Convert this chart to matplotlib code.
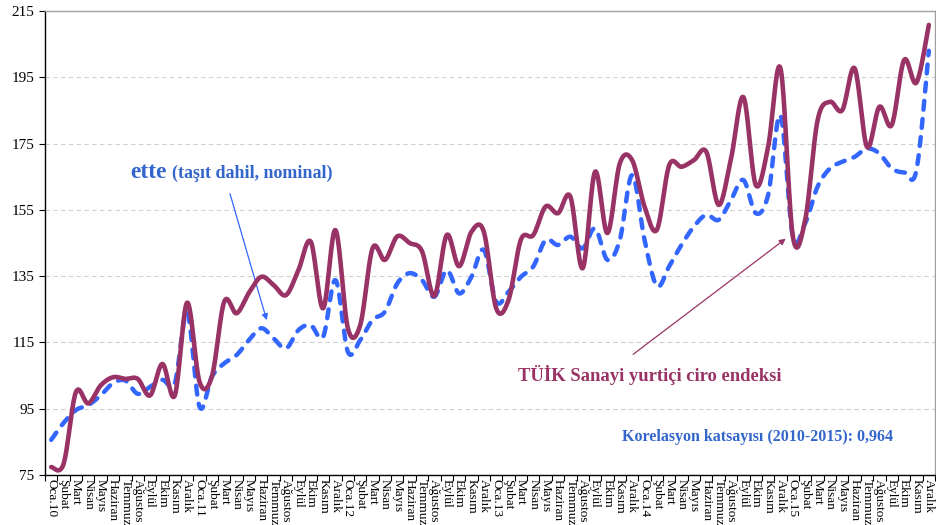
import numpy as np
import matplotlib
matplotlib.use('Agg')
import matplotlib.pyplot as plt

plt.rcParams['font.family'] = ['Liberation Serif', 'DejaVu Serif']

years = ['10', '11', '12', '13', '14', '15']
months = ['Oca', 'Şubat', 'Mart', 'Nisan', 'Mayıs', 'Haziran', 'Temmuz',
          'Ağustos', 'Eylül', 'Ekim', 'Kasım', 'Aralık']

# TÜİK Sanayi yurtiçi ciro endeksi
tuik = [77.4, 78.3, 100.0, 96.6, 102.0, 104.5, 104.0, 104.0, 99.0, 108.5, 99.0, 127.0,
        103.1, 104.7, 127.3, 123.8, 130.0, 134.8, 132.3, 129.3, 136.8, 145.4, 125.3, 148.9,
        119.3, 120.2, 143.4, 139.9, 147.0, 145.0, 142.5, 129.0, 147.4, 138.0, 148.4, 148.4,
        125.3, 127.8, 146.0, 147.4, 156.0, 154.0, 159.0, 137.4, 166.5, 148.0, 169.0, 170.0,
        156.0, 149.0, 168.5, 168.0, 170.0, 172.5, 156.5, 170.5, 189.0, 162.5, 174.0, 197.7,
        147.0, 152.0, 182.0, 187.6, 185.1, 197.7, 174.0, 186.1, 180.6, 200.2, 193.4, 210.8]

# ette (taşıt dahil, nominal)
ette = [85.6, 90.7, 94.6, 96.1, 99.0, 102.7, 103.5, 99.5, 101.6, 103.7, 102.7, 124.0,
        95.6, 104.7, 108.7, 111.2, 115.7, 119.3, 116.2, 113.2, 118.7, 120.2, 116.7, 133.8,
        112.2, 115.7, 121.8, 124.3, 132.8, 135.9, 133.8, 128.8, 136.8, 129.8, 134.8, 142.9,
        127.3, 130.3, 134.8, 137.9, 145.9, 144.4, 146.9, 143.4, 149.4, 139.9, 145.9, 165.5,
        146.0, 132.0, 138.0, 144.5, 150.0, 153.5, 152.0, 158.0, 164.0, 154.0, 159.5, 183.5,
        147.0, 151.0, 162.0, 167.5, 169.5, 171.0, 173.5, 172.0, 167.5, 166.3, 167.0, 203.0]

labels = []
for y in years:
    for m in months:
        labels.append(m + '.' + y if m == 'Oca' else m)


def smooth(yv, n=20):
    # excel-like smoothed line (catmull-rom as bezier)
    y = np.asarray(yv, dtype=float)
    x = np.arange(len(y), dtype=float)
    px = np.concatenate([[x[0]], x, [x[-1]]])
    py = np.concatenate([[y[0]], y, [y[-1]]])
    t = np.linspace(0, 1, n, endpoint=False)
    xs, ys = [], []
    for i in range(len(y) - 1):
        p0 = np.array([x[i], y[i]])
        p3 = np.array([x[i + 1], y[i + 1]])
        p1 = p0 + (np.array([px[i + 2], py[i + 2]]) - np.array([px[i], py[i]])) / 6
        p2 = p3 - (np.array([px[i + 3], py[i + 3]]) - np.array([px[i + 1], py[i + 1]])) / 6
        b = ((1 - t) ** 3)[:, None] * p0 + (3 * (1 - t) ** 2 * t)[:, None] * p1 \
            + (3 * (1 - t) * t ** 2)[:, None] * p2 + (t ** 3)[:, None] * p3
        xs.extend(b[:, 0])
        ys.extend(b[:, 1])
    xs.append(x[-1])
    ys.append(y[-1])
    return np.array(xs), np.array(ys)


fig = plt.figure(figsize=(9.37, 5.25), dpi=100)
ax = fig.add_axes([45 / 937, 1 - 475 / 525, 890 / 937, 464 / 525])

sx, sy = smooth(ette)
ax.plot(sx, sy, color='#3366FF', lw=3.2, dashes=(2.0, 2.1), dash_capstyle='round', zorder=3)
sx, sy = smooth(tuik)
ax.plot(sx, sy, color='#993366', lw=3.3, solid_capstyle='round', zorder=4)

ax.set_xlim(-0.5, len(labels) - 0.5)
ax.set_ylim(75, 215)
ax.set_yticks(range(75, 216, 20))
ax.yaxis.grid(True, color='#D0D0D0', ls=(0, (4, 3)), lw=0.8)
ax.set_axisbelow(True)

ax.set_xticks(np.arange(len(labels)))
ax.set_xticklabels(labels, rotation=270, fontsize=9.5, va='top', ha='center')
ax.set_xticks(np.arange(len(labels) + 1) - 0.5, minor=True)
ax.tick_params(axis='x', which='major', length=0, pad=3)
ax.tick_params(axis='x', which='minor', length=4, width=0.8)
ax.tick_params(axis='y', length=4, width=0.8, labelsize=11)

ax.spines['left'].set_linewidth(1.0)
ax.spines['bottom'].set_linewidth(1.0)
for s in ['top', 'right']:
    ax.spines[s].set_color('#A0A0A0')
    ax.spines[s].set_linewidth(1.0)

blue = '#3366CC'
purple = '#993366'
ax.text(6.4, 164.5, 'ette', color=blue, fontsize=17, fontweight='bold', va='baseline')
ax.text(9.8, 164.5, '(taşıt dahil, nominal)', color=blue, fontsize=13, fontweight='bold', va='baseline')
ax.annotate('', xy=(17.5, 120.9), xytext=(14.4, 160.7),
            arrowprops=dict(arrowstyle='-|>', color='#3366FF', lw=0.9, mutation_scale=9))

ax.text(37.8, 103.5, 'TÜİK Sanayi yurtiçi ciro endeksi', color=purple, fontsize=13.4,
        fontweight='bold', va='baseline')
ax.annotate('', xy=(59.6, 146.8), xytext=(46.9, 110.9),
            arrowprops=dict(arrowstyle='-|>', color=purple, lw=0.9, mutation_scale=9))

ax.text(46.2, 86.5, 'Korelasyon katsayısı (2010-2015): 0,964', color=blue, fontsize=11.5,
        fontweight='bold', va='center')

fig.savefig('out.png', dpi=100)
